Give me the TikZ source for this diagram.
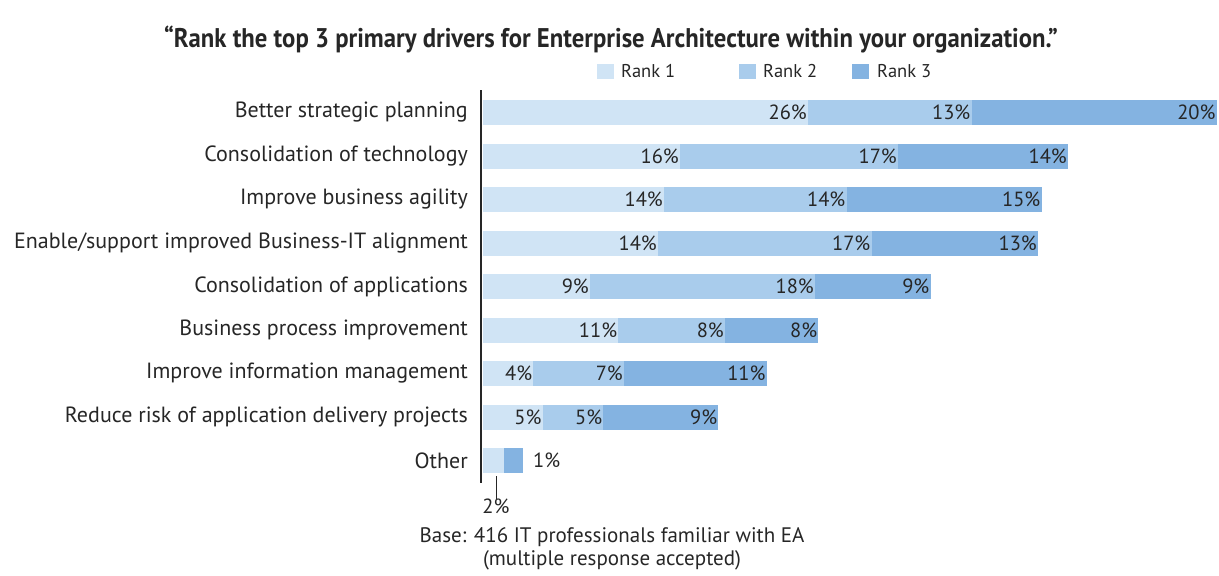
\documentclass[tikz,border=0pt]{standalone}
\usepackage{fontspec}
\setmainfont{PT Sans}
\newfontfamily\titlefont[FakeStretch=0.915]{PT Sans}
\definecolor{rone}{HTML}{D0E4F5}
\definecolor{rtwo}{HTML}{A9CCEC}
\definecolor{rthree}{HTML}{84B3E1}
\definecolor{txt}{HTML}{262626}
\tikzset{
  cat/.style={anchor=east,inner sep=0pt,text=txt,font=\fontsize{22}{24}\selectfont},
  pct/.style={anchor=east,inner sep=0pt,text=txt,font=\fontsize{20.5}{22}\selectfont},
  leg/.style={anchor=west,inner sep=0pt,text=txt,font=\fontsize{18.5}{20}\selectfont},
  foot/.style={inner sep=0pt,text=txt,font=\fontsize{21}{23}\selectfont,align=center},
}
\begin{document}
\begin{tikzpicture}[x=1pt,y=-1pt]
\useasboundingbox (0,0) rectangle (1219,576);
% title
\node[inner sep=0pt,text=txt,font=\titlefont\bfseries\fontsize{27}{30}\selectfont] (title) at (611,40) {“Rank the top 3 primary drivers for Enterprise Architecture within your organization.”};
% legend
\fill[rone] (597,63.5) rectangle (614,78.5);
\node[leg] (leg1) at (621,71) {Rank 1};
\fill[rtwo] (739,63.5) rectangle (756,78.5);
\node[leg] (leg2) at (763,71) {Rank 2};
\fill[rthree] (852,63.5) rectangle (869,78.5);
\node[leg] (leg3) at (877,71) {Rank 3};
% bars
\def\xz{482.7}
\foreach \y/\lab/\a/\b/\c/\p/\q/\r [count=\i] in {
 112.5/Better strategic planning/808/971.5/1216.7/26/13/20,
 156/Consolidation of technology/680/898/1068/16/17/14,
 199.5/Improve business agility/664/846.5/1041.5/14/14/15,
 243/Enable\slash support improved Business-IT alignment/658/871.5/1038/14/17/13,
 286.5/Consolidation of applications/590/815/930.5/9/18/9,
 330/Business process improvement/618.3/725/818.3/11/8/8,
 373.5/Improve information management/533.3/624/766.7/4/7/11,
 417/Reduce risk of application delivery projects/542.7/603.3/718.3/5/5/9}{
  \fill[rone] (\xz,\y-12.5) rectangle (\a,\y+12.5);
  \fill[rtwo] (\a,\y-12.5) rectangle (\b,\y+12.5);
  \fill[rthree] (\b,\y-12.5) rectangle (\c,\y+12.5);
  \node[cat] (lab\i) at (468,\y) {\lab};
  \node[pct] (pa\i) at (\a-1,\y) {\p\%};
  \node[pct] (pb\i) at (\b-1,\y) {\q\%};
  \node[pct] (pc\i) at (\c-1,\y) {\r\%};
}
% Other
\fill[rone] (\xz,448) rectangle (504,473);
\fill[rthree] (504,448) rectangle (523,473);
\node[cat] (lab9) at (468,460.5) {Other};
\node[pct,anchor=west] (one) at (533,460.5) {1\%};
\node[pct,anchor=north] (two) at (496,499) {2\%};
\coordinate (tk) at (496,476);
\draw[txt,line width=1pt] (tk) -- (two.north);
% axis
\coordinate (ax0) at (480.5,90);
\coordinate (ax1) at (480.5,483);
\draw[txt,line width=2pt] (ax0) -- (ax1);
% footnote
\node[foot] (base) at (612,549) {Base: 416 IT professionals familiar with EA\\(multiple response accepted)};
\end{tikzpicture}
\end{document}
